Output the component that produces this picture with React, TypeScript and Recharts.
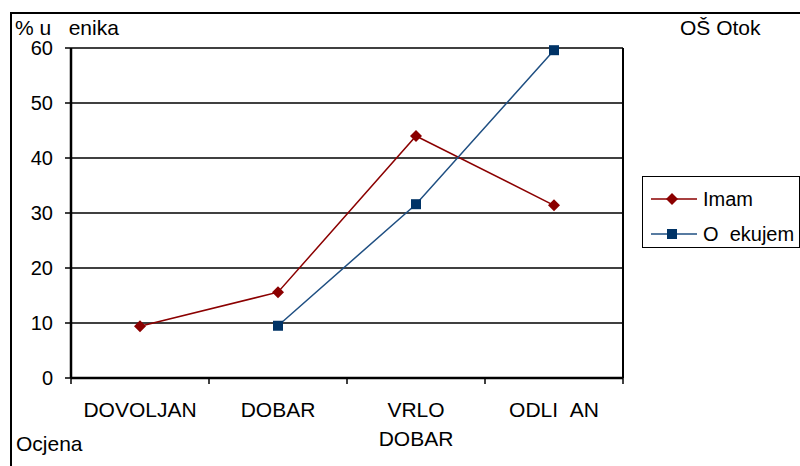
import {
  CartesianGrid,
  Legend,
  Line,
  LineChart,
  XAxis,
  YAxis,
} from "recharts";

// grades on the x axis (the č / ć glyphs are missing in the original, shown as gaps)
const categories = ["DOVOLJAN", "DOBAR", "VRLO DOBAR", "ODLI\u00a0\u00a0AN"];
const imam = [9.4, 15.6, 44, 31.4];
const ocekujem = [null, 9.5, 31.6, 59.6];
const yTicks = [0, 10, 20, 30, 40, 50, 60];

const data = categories.map((c, i) => ({
  ocjena: c,
  imam: imam[i],
  ocekujem: ocekujem[i],
}));

const colors = {
  imam: "#8b0000",
  ocekujemLine: "#1f4f82",
  ocekujemMarker: "#003366",
};

const FONT = "'Liberation Sans', Arial, sans-serif";
const LABEL_GAP = 24;

const Diamond = (props: any) => {
  const { cx, cy, value, index } = props;
  if (cx == null || cy == null || value == null) return <g key={`d-${index}`} />;
  return (
    <path
      key={`d-${index}`}
      d={`M${cx},${cy - 6}L${cx + 6},${cy}L${cx},${cy + 6}L${cx - 6},${cy}Z`}
      fill={colors.imam}
    />
  );
};

const Square = (props: any) => {
  const { cx, cy, value, index } = props;
  if (cx == null || cy == null || value == null) return <g key={`s-${index}`} />;
  return (
    <rect key={`s-${index}`} x={cx - 5} y={cy - 5} width={10} height={10} fill={colors.ocekujemMarker} />
  );
};

// label under each grade, plus the tick marks on the band edges
const CategoryTick = (props: any) => {
  const { x, y, payload, index, visibleTicksCount, width } = props;
  const half = payload.offset || (width && visibleTicksCount ? width / visibleTicksCount / 2 : 0);
  const axisY = y - LABEL_GAP;
  const edges = [x - half];
  if (index === visibleTicksCount - 1) edges.push(x + half);
  const lines = String(payload.value).split(" ");
  return (
    <g>
      {half > 0 &&
        edges.map((ex) => (
          <line key={ex} x1={ex} x2={ex} y1={axisY} y2={axisY + 6} stroke="#000" strokeWidth={1.5} />
        ))}
      <text x={x} y={y} textAnchor="middle" fill="#000" fontSize={21} fontFamily={FONT}>
        {lines.map((l, i) => (
          <tspan key={i} x={x} dy={i === 0 ? "0.71em" : 29}>
            {l}
          </tspan>
        ))}
      </text>
    </g>
  );
};

const LegendBox = () => {
  const items = [
    { name: "Imam", line: colors.imam, marker: "diamond" },
    { name: "O\u00a0\u00a0ekujem", line: colors.ocekujemLine, marker: "square" },
  ];
  return (
    <div
      style={{
        border: "1.5px solid #000",
        boxSizing: "border-box",
        width: 158,
        height: 72,
        padding: "8px 0 0 8px",
        background: "#fff",
        fontFamily: FONT,
        fontSize: 20,
      }}
    >
      {items.map((it) => (
        <div key={it.name} style={{ display: "flex", alignItems: "center", height: 28, marginBottom: 7 }}>
          <svg width={48} height={14} style={{ marginRight: 4 }}>
            <line x1={0} y1={7} x2={46} y2={7} stroke={it.line} strokeWidth={1.5} />
            {it.marker === "diamond" ? (
              <path d="M21,1L27,7L21,13L15,7Z" fill={colors.imam} />
            ) : (
              <rect x={16} y={2} width={10} height={10} fill={colors.ocekujemMarker} />
            )}
          </svg>
          <span style={{ whiteSpace: "pre" }}>{it.name}</span>
        </div>
      ))}
    </div>
  );
};

export default function App() {
  return (
    <div
      style={{
        position: "fixed",
        left: 0,
        top: 0,
        width: 800,
        height: 466,
        overflow: "hidden",
        background: "#fff",
        fontFamily: FONT,
      }}
    >
      <div
        style={{
          position: "absolute",
          left: 10,
          top: 12,
          width: 800,
          height: 470,
          border: "2px solid #000",
        }}
      />
      <LineChart
        width={800}
        height={466}
        data={data}
        margin={{ top: 48, right: 176, left: 0, bottom: 0 }}
        style={{ position: "absolute", left: 0, top: 0 }}
      >
        <CartesianGrid vertical={false} stroke="#000" strokeWidth={1.5} />
        <XAxis
          dataKey="ocjena"
          scale="band"
          height={88}
          axisLine={{ stroke: "#000", strokeWidth: 2.5 }}
          tickLine={false}
          tickSize={0}
          tickMargin={LABEL_GAP}
          interval={0}
          tick={<CategoryTick />}
        />
        <YAxis
          width={71}
          domain={[0, 60]}
          ticks={yTicks}
          tickSize={6}
          tickMargin={12}
          tickLine={{ stroke: "#000", strokeWidth: 1.5 }}
          axisLine={{ stroke: "#000", strokeWidth: 2.5 }}
          tick={{ fill: "#000", fontSize: 20, fontFamily: FONT }}
        />
        {/* right edge of the plot area */}
        <YAxis
          yAxisId="right"
          orientation="right"
          dataKey="imam"
          width={1}
          domain={[0, 60]}
          tick={false}
          tickLine={false}
          axisLine={{ stroke: "#000", strokeWidth: 2 }}
        />
        <Legend
          layout="vertical"
          align="center"
          verticalAlign="middle"
          content={<LegendBox />}
          wrapperStyle={{ position: "absolute", left: 642, top: 176, width: 158 }}
        />
        <Line
          name="Imam"
          dataKey="imam"
          stroke={colors.imam}
          strokeWidth={1.5}
          dot={<Diamond />}
          activeDot={false}
          isAnimationActive={false}
        />
        <Line
          name="O  ekujem"
          dataKey="ocekujem"
          stroke={colors.ocekujemLine}
          strokeWidth={1.5}
          dot={<Square />}
          activeDot={false}
          connectNulls={false}
          isAnimationActive={false}
        />
      </LineChart>
      <div style={{ position: "absolute", left: 15, top: 16, fontSize: 21, whiteSpace: "pre" }}>
        {"% u   enika"}
      </div>
      <div style={{ position: "absolute", left: 680, top: 16, fontSize: 21 }}>OŠ Otok</div>
      <div style={{ position: "absolute", left: 16, top: 432, fontSize: 21 }}>Ocjena</div>
    </div>
  );
}
